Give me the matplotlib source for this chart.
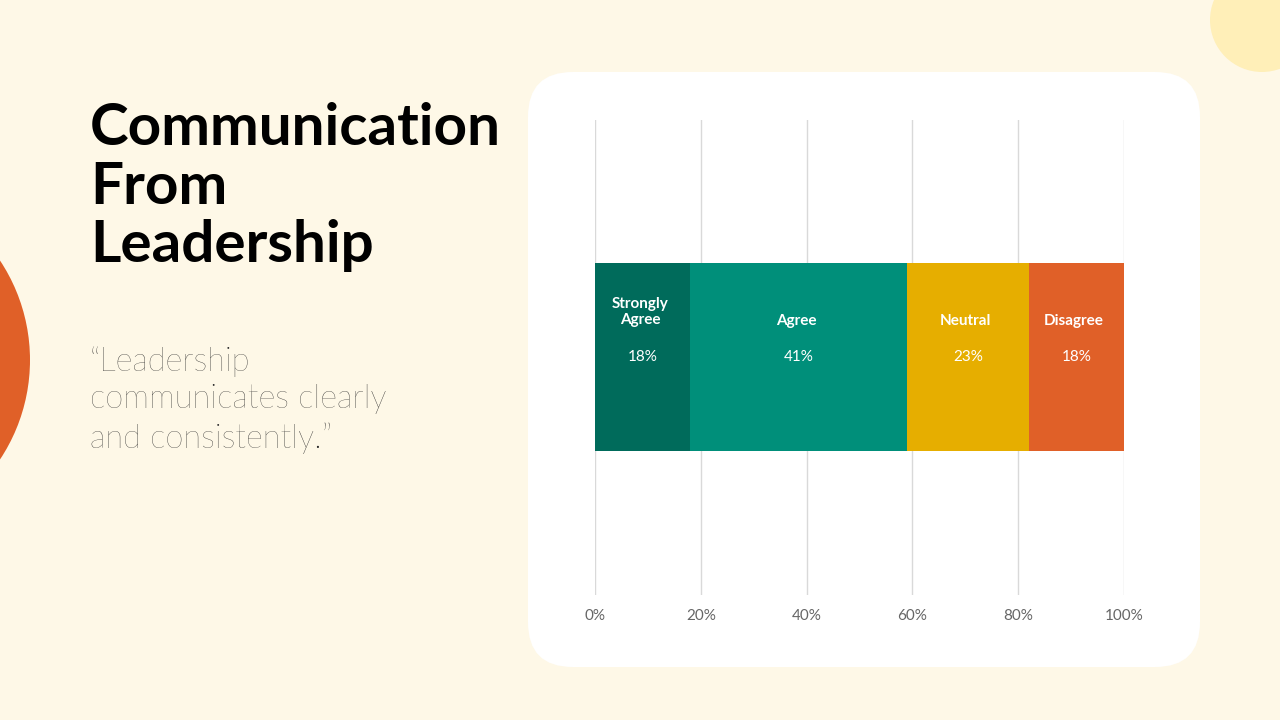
import matplotlib
matplotlib.use("Agg")
import matplotlib.pyplot as plt
from matplotlib.patches import FancyBboxPatch, Ellipse

categories = ["Strongly\nAgree", "Agree", "Neutral", "Disagree"]
values = [18, 41, 23, 18]
colors = ["#006B5B", "#008F7A", "#E6AE00", "#E06028"]
ticks = [0, 20, 40, 60, 80, 100]
tick_labels = ["0%", "20%", "40%", "60%", "80%", "100%"]

plt.rcParams['font.family'] = ['Lato', 'DejaVu Sans']
fig = plt.figure(figsize=(12.8, 7.2), dpi=100)
fig.patch.set_facecolor("#FEF8E7")

# decorations
fig.patches.append(Ellipse((-150/1280, 1-360/720), 360/1280, 360/720, transform=fig.transFigure,
                           facecolor="#E06028", edgecolor="none", zorder=-5))
fig.patches.append(Ellipse((1262/1280, 1-20/720), 104/1280, 104/720, transform=fig.transFigure,
                           facecolor="#FFEFB8", edgecolor="none", zorder=-5))
fig.patches.append(FancyBboxPatch((528/1280, 1-667/720), 672/1280, 595/720,
                                  boxstyle="round,pad=0,rounding_size=0.035",
                                  transform=fig.transFigure, facecolor="white",
                                  edgecolor="none", mutation_aspect=1280/720, zorder=-5))

fig.text(90/1280, 1-187/720, "Communication\nFrom\nLeadership", fontsize=42,
         fontweight="bold", va="center", ha="left", linespacing=1.12, color="black")
fig.text(90/1280, 1-400/720, "\u201cLeadership\ncommunicates clearly\nand consistently.\u201d",
         fontsize=23.5, fontweight="light", va="center", ha="left", linespacing=1.32, color="#222222")

ax = fig.add_axes([595/1280, 1-595/720, 529/1280, 475/720])
ax.set_zorder(5)
ax.set_facecolor("none")
left = 0
yc = (595-357)/475
h = 188/475
for cat, v, c in zip(categories, values, colors):
    ax.barh(yc, v, left=left, height=h, color=c, zorder=3)
    cx = left + v/2
    off = 0.075 if "\n" not in cat else 0.095
    ax.text(cx - 0.5, yc + off, cat, ha="center", va="center", color="white",
            fontsize=11, fontweight="bold", zorder=4, linespacing=1.15)
    ax.text(cx, yc, f"{v}%", ha="center", va="center", color="white",
            fontsize=11, zorder=4)
    left += v
ax.set_xlim(0, 100)
ax.set_ylim(0, 1)
ax.set_xticks(ticks)
ax.set_xticklabels(tick_labels, color="#666666", fontsize=11)
ax.set_yticks([])
ax.grid(axis="x", color="#D9D9D9", linewidth=1, zorder=0)
ax.tick_params(axis="x", length=0, pad=10)
for s in ax.spines.values():
    s.set_visible(False)

fig.savefig("out.png", dpi=100, facecolor=fig.get_facecolor())
